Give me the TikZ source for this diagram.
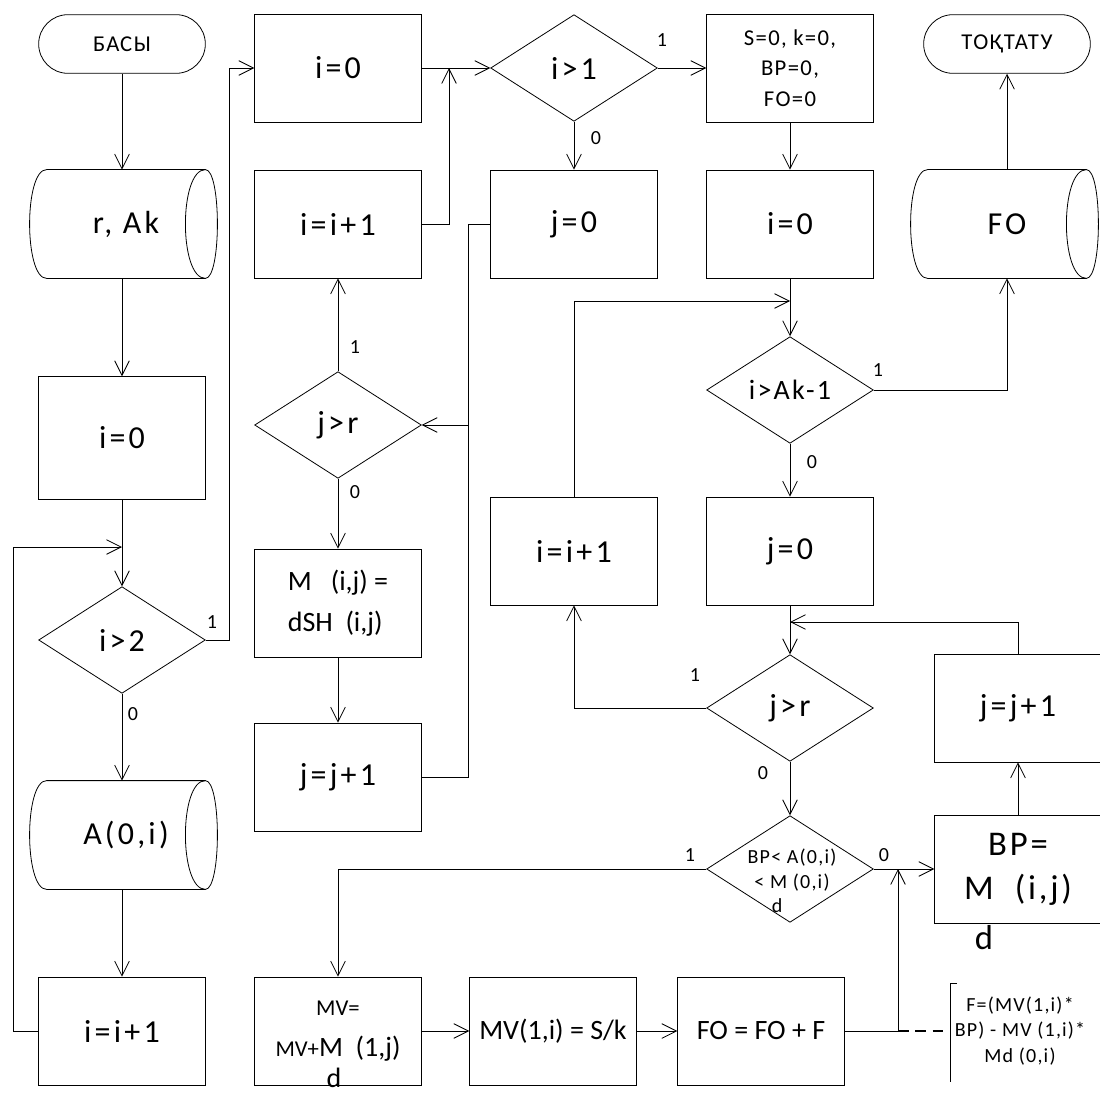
\documentclass[tikz,border=0pt]{standalone}
\usepackage{fontspec}
\setmainfont{Carlito}
\usetikzlibrary{shapes.geometric,arrows.meta}

\newcommand{\fshuge}{\fontsize{26}{33}\selectfont\addfontfeature{LetterSpace=8}}
\newcommand{\fsbig}{\fontsize{24}{29}\selectfont\addfontfeature{LetterSpace=10}}
\newcommand{\fsmid}{\fontsize{21}{31}\selectfont}
\newcommand{\fsterm}{\fontsize{17}{23}\selectfont\addfontfeature{LetterSpace=6}}
\newcommand{\fssmall}{\fontsize{15}{19}\selectfont\addfontfeature{LetterSpace=6}}
\newcommand{\fslbl}{\fontsize{15}{18}\selectfont}

% outline of a stored data block
\newcommand{\storeline}[1]{%
  \draw (#1.north west) -- (#1.north east)
    .. controls ([xshift=12pt]#1.north east) and ([xshift=12pt]#1.south east) .. (#1.south east)
    -- (#1.south west)
    .. controls ([xshift=-17pt]#1.south west) and ([xshift=-17pt]#1.north west) .. (#1.north west);
  \draw (#1.north east) .. controls ([xshift=-20pt]#1.north east) and ([xshift=-20pt]#1.south east) .. (#1.south east);}

\begin{document}
\begin{tikzpicture}[x=0.75pt,y=-0.75pt,line width=0.6pt,
  >={Straight Barb[length=11pt,width=11pt]},
  box/.style={draw, rectangle, minimum width=125pt, minimum height=81pt, inner sep=2pt, font=\fsbig},
  term/.style={draw, rectangle, rounded corners=22pt, minimum width=125pt, minimum height=44pt, font=\fsterm},
  dec/.style={draw, diamond, aspect=1.56, inner sep=0pt, minimum width=125pt, minimum height=80pt, font=\fsbig},
  store/.style={rectangle, minimum width=118.5pt, minimum height=81pt, font=\fsbig},
  lbl/.style={font=\fslbl, inner sep=1pt}]
\useasboundingbox (0,0) rectangle (1100,1095);
% Define the nodes
\node[term] at (122,44) (basy) {БАСЫ};
\node[store] at (126,224) (rak) {r, Ak};
\node[box, minimum height=92pt] at (122,438) (i0a) {i=0};
\node[dec] at (122,640) (d2) {i>2};
\node[store] at (126,835) (a0i) {A(0,i)};
\node[box] at (122,1031) (inc1) {i=i+1};

\node[box] at (338,68) (i0b) {i=0};
\node[box] at (338,224) (incb) {i=i+1};
\node[dec] at (338,425) (djr) {j>r};
\node[box, font=\fsmid, align=left] at (338,603) (mbox) {M\ \ \ (i,j) =\\dSH\ \ (i,j)};
\node[box] at (338,777) (jinc) {j=j+1};
\node[box, font=\fsmid, align=center] at (338,1031) (mv) {{\fontsize{17}{25}\selectfont MV=}\\{\fontsize{17}{25}\selectfont MV+}M\ \ (1,j)};
\node[font=\fsmid] at (334,1078) (mvd) {d};

\node[dec] at (574,68) (d1) {i>1};
\node[box] at (574,224) (j0a) {j=0};
\node[box] at (574,551) (inc3) {i=i+1};
\node[box, font=\fsmid] at (553,1031) (mvs) {MV(1,i) = S/k};

\node[box, font=\fsterm, align=center] at (790,68) (sbox) {S=0, k=0,\\BP=0,\\FO=0};
\node[box] at (790,224) (i0c) {i=0};
\node[dec, font=\fontsize{21}{26}\selectfont\addfontfeature{LetterSpace=8}] at (790,390) (dak) {i>Ak-1};
\node[box] at (790,551) (j0b) {j=0};
\node[dec] at (790,708) (djr2) {j>r};
\node[dec] at (790,869) (dbp) {};
\node[font=\fssmall, align=center] at (792,870) (bpt) {BP< A(0,i)\\< M\ (0,i)};
\node[font=\fssmall] at (777,906) (bpd) {d};
\node[box, font=\fsmid] at (761,1031) (fo) {FO = FO + F};

\node[term] at (1007,44) (stop) {ТОҚТАТУ};
\node[store] at (1007,224) (fost) {FO};
\node[box] at (1018,708) (jinc2) {j=j+1};
\node[box, font=\fshuge, align=center] at (1018,869) (bpbox) {BP=\\M\ \ (i,j)};
\node[font=\fshuge] at (984,938) (bpbd) {d};
\node[font=\fssmall, align=center] at (1020,1031) (fnote) {F=(MV(1,i)*\\BP) - MV (1,i)*\\Md (0,i)};

\storeline{rak}
\storeline{a0i}
\storeline{fost}

% junctions
\coordinate (j1) at (122,547);
\coordinate (j2) at (449,68);
\coordinate (j3) at (468,425);
\coordinate (j4) at (790,301);
\coordinate (j5) at (790,622);
\coordinate (j6) at (898,869);
\coordinate (j7) at (898,1031);
\coordinate (brk) at (950,1031);

% Draw the paths
\draw[->] (basy) -- (basy |- rak.north);
\draw[->] (basy |- rak.south) -- (i0a);
\draw[->] (i0a) -- (d2);
\draw[->] (d2) -- (d2 |- a0i.north);
\draw[->] (d2 |- a0i.south) -- (inc1);
\draw[->] (inc1.west) -- ++(-25,0) |- (j1);
\draw[->] (d2.east) -- ++(24,0) |- (i0b.west);
\draw[->] (i0b) -- (d1);
\draw[->] (incb.east) -| (j2);
\draw[->] (d1) -- (j0a);
\draw[->] (d1) -- (sbox);
\draw[->] (j0a.west) -| (j3) -- (djr.east);
\draw (jinc.east) -| (j3);
\draw[->] (djr) -- (incb);
\draw[->] (djr) -- (mbox);
\draw[->] (mbox) -- (jinc);
\draw[->] (sbox) -- (i0c);
\draw[->] (i0c) -- (dak);
\draw[->] (inc3) |- (j4);
\draw[->] (dak.east) -| (fost.south);
\draw[->] (fost) -- (stop);
\draw[->] (dak) -- (j0b);
\draw[->] (j0b) -- (djr2);
\draw[->] (jinc2.north) |- (j5);
\draw[->] (djr2.west) -| (inc3.south);
\draw[->] (djr2) -- (dbp);
\draw[->] (dbp.east) -- (bpbox.west);
\draw[->] (fo.east) -| (j6);
\draw[->] (bpbox) -- (jinc2);
\draw[->] (dbp.west) -| (mv.north);
\draw[->] (mv) -- (mvs);
\draw[->] (mvs) -- (fo);
\draw[line width=1.6pt, dash pattern=on 8pt off 5pt] (j7) -- (brk);
\draw (957,983) -- (950,983) -- (950,1082);

% branch labels
\node[lbl] at (212,622) (l2a) {1};
\node[lbl] at (133,714) (l2b) {0};
\node[lbl] at (662,40) (l1a) {1};
\node[lbl] at (596,138) (l1b) {0};
\node[lbl] at (355,347) (lra) {1};
\node[lbl] at (355,492) (lrb) {0};
\node[lbl] at (878,370) (lka) {1};
\node[lbl] at (812,462) (lkb) {0};
\node[lbl] at (695,675) (lsa) {1};
\node[lbl] at (763,773) (lsb) {0};
\node[lbl] at (690,855) (lba) {1};
\node[lbl] at (884,855) (lbb) {0};
\end{tikzpicture}
\end{document}
